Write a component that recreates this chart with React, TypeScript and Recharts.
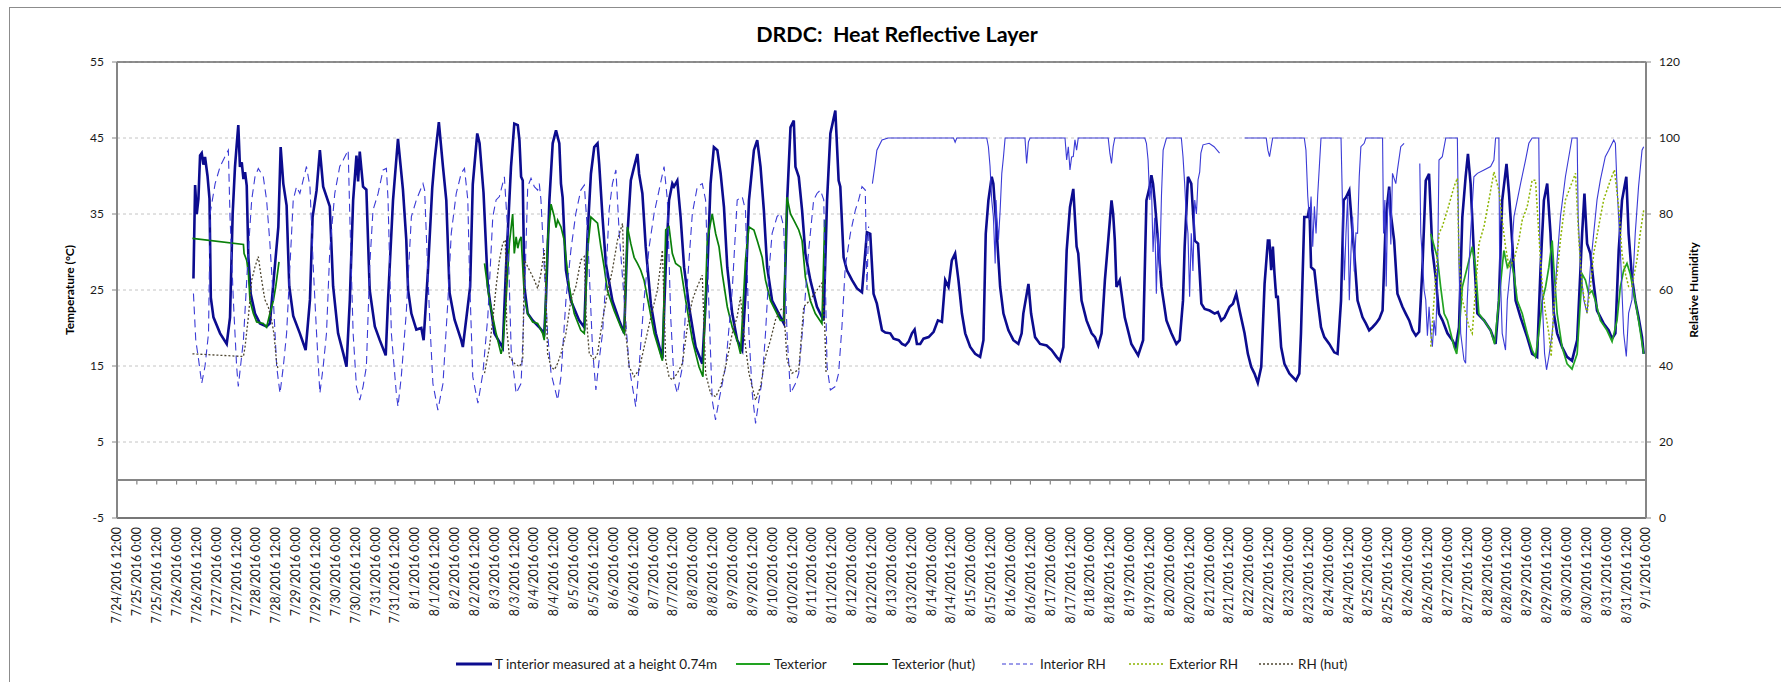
import React from "react";
import { LineChart, Line, XAxis, YAxis, CartesianGrid, ReferenceLine } from "recharts";

// x values are hours after 7/24/2016 12:00
const T0 = Date.UTC(2016, 6, 24, 12);
const xTicks = Array.from({ length: 78 }, (_, i) => i * 12);
const tempTicks = [-5, 5, 15, 25, 35, 45, 55];
const rhTicks = [0, 20, 40, 60, 80, 100, 120];

type Pt = [number, number | null];

const tInterior: Pt[] = [
  [46.2, 26.5], [47.2, 38.8], [48.2, 35], [49.2, 37], [50.2, 42.7], [51.2, 43], [52.2, 41.5], [53.2, 42.5], [54.7, 40], [55.9, 37],
  [56.7, 24], [58.3, 21.4], [62.3, 19.3], [66.3, 17.9], [68.3, 21.4], [69.9, 35], [71.3, 41.2], [72.3, 44], [73.3, 46.7], [74.3, 41.2],
  [75.4, 41.8], [76.4, 39.6], [77.4, 40.5], [78.4, 38.7], [79.4, 29.3], [80.8, 24.5], [83.4, 21.9], [86.4, 20.6], [90.4, 20.2], [92.4, 20.6],
  [94.5, 25.9], [97.5, 33.3], [98.9, 43.8], [100.5, 39], [102.5, 36.1], [104.1, 25.5], [106.5, 21.6], [110.5, 19.3], [114, 17.1], [116.6, 23.7],
  [118.2, 34.6], [120.6, 38.1], [122.6, 43.4], [124.6, 38.6], [128.6, 36], [130.6, 25.5], [133.6, 19.3], [136.7, 16.7], [138.7, 14.9], [140.7, 23.7],
  [142.7, 36.8], [144.7, 42.7], [145.7, 39.3], [146.7, 43.2], [148.7, 38.6], [150.7, 38.2], [152.7, 25], [155.8, 20.2], [158.8, 18.4], [162.4, 16.4],
  [163.8, 23.7], [166.8, 36.8], [169.8, 44.9], [172.8, 38.2], [174.8, 31.7], [175.9, 25], [177.9, 21.9], [180.9, 19.8], [183.9, 20], [185.3, 18.4],
  [187.9, 27.5], [190.5, 38.4], [191.9, 42], [194.5, 47.1], [197, 41.2], [199, 36.8], [201, 24.6], [204, 21.1], [208, 18.4], [209, 17.5],
  [213.4, 25.4], [215, 38.9], [217.7, 45.6], [219.1, 44.3], [221.5, 37.8], [224.1, 25.5], [228.1, 19.3], [233.1, 17.4], [235.1, 28], [238.1, 41.2],
  [240.1, 46.9], [242.2, 46.7], [243.2, 44.7], [244.2, 39.9], [245.2, 39.4], [246.2, 25.4], [248.2, 21.9], [251.2, 21], [255.2, 20.1], [258.2, 19.3],
  [259.2, 23.6], [261.3, 36.8], [263.3, 44.3], [265.3, 46], [267.3, 44.3], [268.3, 39], [269.3, 37.2], [271.3, 27.6], [274.3, 23.6], [279.3, 21],
  [282.4, 20.1], [284.4, 32.4], [286.4, 40.3], [288.4, 43.8], [290.4, 44.3], [291.4, 41.6], [293.4, 34.6], [295.4, 28.5], [299.4, 23.6], [303.5, 21],
  [306.5, 19.3], [308.5, 32.4], [310.5, 39.4], [312.5, 41.2], [314.5, 42.9], [315.5, 40.3], [317.5, 37.7], [319.5, 30.7], [322.6, 23.2], [325.6, 19.3],
  [329.6, 16], [331.6, 28], [333.6, 36.8], [335.6, 39], [336.6, 38.6], [338.6, 39.4], [340.6, 34.6], [342.7, 28], [345.7, 22.8], [349.7, 17.5],
  [353.7, 15.3], [356.7, 27.1], [358.7, 39], [360.7, 43.8], [362.8, 43.4], [364.8, 40.3], [366.8, 35.9], [368.8, 28], [371.8, 21.9], [374.8, 18.4],
  [377.8, 17.1], [379.8, 24.5], [381.9, 36.8], [384.9, 43.4], [386.9, 44.7], [388.9, 41.2], [390.9, 35.5], [392.9, 28], [395.9, 23.6], [399.9, 21.9],
  [403, 20.6], [405, 36.8], [407, 46.4], [409, 47.3], [410, 41.2], [412, 39.9], [414, 35.5], [416, 29.8], [419, 26.3], [423, 22.8],
  [427, 21], [429.1, 36.8], [431.1, 45.6], [434.1, 48.6], [436.1, 39.4], [437.1, 38.6], [439.1, 29.3], [441.1, 27.6], [444.2, 26.3], [447.2, 25.2],
  [450.2, 24.7], [453.2, 32.6], [455.2, 32.4], [457.2, 24.5], [459.2, 23.2], [462.3, 19.7], [464.3, 19.4], [467.3, 19.3], [469.3, 18.6], [472.4, 18.4],
  [474.4, 17.9], [476.4, 17.7], [478.4, 18.2], [480.4, 19.3], [482, 19.8], [483.4, 17.9], [485.4, 17.9], [487.4, 18.6], [490.5, 18.8], [493.5, 19.5],
  [496.1, 21], [498.5, 20.8], [500.5, 26.3], [502.5, 25.4], [504.5, 28.9], [506.5, 29.8], [508.5, 26.3], [510.6, 21.9], [512.6, 19.3], [515.6, 17.5],
  [518.6, 16.6], [521.6, 16.2], [523.6, 18.4], [525, 32.4], [526.6, 36.8], [528.6, 39.9], [529.6, 39], [531.7, 32.4], [533.7, 25.4], [535.7, 21.9],
  [538.7, 19.7], [541.7, 18.4], [544.7, 17.9], [546.7, 19.3], [547.7, 21.9], [550.8, 25.8], [552.4, 21.9], [554.8, 18.8], [557.8, 17.9], [561.8, 17.7],
  [564.8, 17.1], [567.8, 16.2], [569.8, 15.7], [571.9, 17.5], [573.9, 30.2], [575.9, 35.9], [577.9, 38.3], [579.9, 30.7], [580.9, 29.8], [582.9, 23.6],
  [585.9, 21], [589, 19.3], [591, 18.8], [593, 17.7], [595, 19.3], [597, 26.3], [599, 31.5], [601, 36.8], [602, 35], [603, 31.5],
  [604, 25.4], [606, 26.3], [609, 21.4], [613, 17.9], [617.1, 16.4], [620.1, 18.4], [622.1, 36.8], [624.1, 38.6], [625.1, 40.1], [626.1, 39],
  [627.1, 36.8], [629.1, 31.5], [631.2, 25.4], [634.2, 21], [637.2, 19.3], [640.2, 17.9], [642.2, 18.4], [644.2, 23.6], [645.2, 30.7], [647.2, 39.9],
  [649.2, 39], [651.3, 31.5], [653.3, 31.1], [655.3, 23.2], [657.3, 22.5], [660.3, 22.3], [663.3, 21.9], [665.3, 22.1], [667.3, 21], [669.3, 21.4],
  [672.4, 22.8], [674.4, 23.2], [676.4, 24.5], [678.4, 22.3], [681.4, 19.3], [683.4, 16.6], [685.4, 14.9], [687.4, 14], [689.4, 12.8], [691.5, 14.9],
  [693.5, 25.8], [695.5, 31.5], [696.4, 31.5], [697.5, 27.6], [698.5, 30.7], [699.5, 27.1], [700.5, 24.1], [701.5, 24.1], [703.5, 17.5], [705.5, 15.3],
  [708.5, 14], [712.5, 13.1], [714.5, 14], [715.5, 19.3], [717.5, 34.6], [719.6, 34.6], [720.6, 35.9], [721.6, 28], [723.6, 27.6], [725.6, 23.6],
  [727.6, 20.1], [729.6, 18.8], [732.6, 17.9], [735.6, 16.8], [737.6, 16.6], [739.7, 23.6], [741.3, 36.8], [742.7, 37.2], [744.7, 38.1], [746.7, 32.4],
  [747.7, 29.8], [749.7, 23.6], [752.7, 21.4], [754.7, 20.6], [756.7, 19.7], [758.7, 20.1], [760.8, 20.6], [762.8, 21.2], [764.8, 22.3], [766.8, 34.6],
  [768.8, 38.6], [769.8, 35], [771.8, 31.5], [773.8, 24.5], [776.8, 22.8], [778.8, 21.9], [780.9, 21], [782.9, 19.7], [784.9, 19], [786.9, 19.5],
  [788.9, 28], [790.9, 39.4], [792.9, 40.3], [794.9, 30.2], [796.9, 26.7], [798.9, 21.9], [801, 21], [804, 19.3], [807, 18.4], [809, 17.5],
  [811, 20.1], [813, 34.6], [815, 39.9], [816.4, 42.9], [818, 39], [820, 29.8], [822.1, 21.9], [826.1, 21], [830.1, 19.7], [833.1, 17.9],
  [835.1, 23.6], [837.1, 36.8], [839.7, 41.6], [841.2, 37.7], [843.2, 31.1], [845.2, 23.6], [848.2, 21.4], [852.2, 18.8], [855.2, 16.6], [858.2, 16.2],
  [860.3, 28], [862.3, 36.8], [864.3, 39], [866.3, 32.4], [868.3, 21.9], [870.3, 19.3], [873.3, 17.5], [876.3, 16.2], [879.3, 15.7], [882.4, 18.4],
  [885.4, 32.4], [886.8, 37.7], [888.4, 31.1], [890.4, 29.8], [892.4, 25.8], [894.4, 22.3], [898.4, 20.6], [901.5, 19.7], [903.5, 18.6], [905.5, 19.3],
  [907.5, 30.2], [909.5, 36.8], [912.1, 39.9], [913.5, 32.4], [915.5, 26.7], [917.5, 23.6], [919.5, 21.4], [921.6, 18.8], [922.6, 16.6],
];

const tExterior: Pt[] = [
  [793.9, 32.4], [797.9, 29.3], [799.9, 25.4], [802, 21.9], [804, 21], [806, 19.3], [808, 17.5], [809.6, 16.6], [811, 19.3], [813, 25.4],
  [816, 28], [819, 30.7], [821, 28], [823, 21.9], [826.1, 21], [830.1, 19.7], [832.5, 17.9], [835.1, 23.6], [838.1, 30.2], [840.2, 28],
  [842.2, 28.9], [844.2, 27.1], [846.2, 23.6], [849.2, 21.9], [852.2, 19.3], [855.2, 17.1], [857.2, 16.2], [859.2, 19.3], [861.3, 23.6], [863.3, 25.4],
  [865.3, 28], [867.3, 31.5], [868.3, 28], [870.3, 21.9], [873.3, 17.5], [876.3, 15.3], [879.3, 14.6], [882.4, 16.6], [885.4, 27.1], [887.4, 26.3],
  [889.4, 24.5], [891.4, 24.9], [893.4, 23.6], [896.4, 21], [900.4, 19.7], [903.5, 18.2], [906.5, 21], [908.5, 25.4], [910.5, 27.6], [912.5, 28.5],
  [914.5, 27.1], [917.5, 23.6], [919.5, 21], [922.6, 16.6],
];

const tExteriorHut: Pt[] = [
  [45.6, 31.8], [76.4, 31], [76.8, 29.8], [78.4, 28.9], [79.4, 27.2], [80.4, 23.6], [82.4, 21.9], [84.4, 20.8], [88.4, 20.6], [90.4, 20.1],
  [92.4, 21.9], [94.5, 23.6], [95.9, 25.4], [97.9, 28.7], [160, null],
  [222.1, 28.5], [225.1, 23.6], [229.1, 19.3], [232.1, 16.6], [233.1, 17.5], [235.1, 23.6], [237.1, 31.1], [239.1, 35], [240.1, 29.8], [241.2, 32],
  [242.2, 30.5], [243.2, 31.5], [244.2, 32], [246.2, 24.1], [248.2, 21.9], [251.2, 20.8], [254.2, 20.6], [257.2, 19.3], [258.2, 18.4], [260.2, 31.5],
  [262.3, 36.3], [264.3, 34.6], [265.3, 33.2], [266.3, 34.2], [268.3, 33.3], [270.3, 31.5], [271.3, 29.3], [273.3, 25.4], [276.3, 21.9], [280.3, 19.7],
  [282.4, 19.3], [284.4, 30.2], [286.4, 34.6], [288.4, 34.2], [290.4, 33.8], [292.4, 30.7], [294.4, 28], [296.4, 24.9], [300.4, 22.3], [304.5, 20.1],
  [306.5, 19.3], [308.5, 33.3], [310.5, 31.1], [312.5, 29.3], [314.5, 28.5], [316.5, 27.6], [318.5, 26.3], [321.6, 22.8], [324.6, 19.3], [329.6, 15.7],
  [331.6, 32.9], [333.6, 33.3], [335.6, 29.8], [337.6, 28.5], [340.6, 28], [343.7, 23.6], [347.7, 18.4], [351.7, 14.9], [354.1, 13.6], [356.7, 31.5],
  [359.7, 35], [361.8, 32.4], [363.8, 30.7], [365.8, 27.1], [368.8, 22.8], [371.8, 20.1], [374.8, 18.4], [376.8, 16.6], [379.8, 28.9], [381.9, 33.3],
  [384.9, 32.9], [386.9, 31.5], [389.9, 29.3], [391.9, 26.3], [394.9, 23.6], [397.9, 22.3], [400.9, 21], [402.9, 21], [404.9, 37.2], [407, 35],
  [409, 34.2], [412, 32.9], [414, 31.5], [416, 26.7], [419, 23.6], [422, 21.9], [426, 20.6], [427.7, 34.2],
];

const rhInteriorEarly: Pt[] = [
  [46.2, 59.1], [47.6, 46.8], [49.2, 42], [51.2, 35.4], [53.2, 40], [55.3, 48.6], [56.3, 80.2], [59.3, 88], [62.3, 92.5], [66.3, 96],
  [67.3, 96.8], [68.3, 79.3], [70.3, 57.4], [72.3, 39.8], [73.3, 34.6], [76.4, 46.8], [79.4, 70.5], [81.4, 83.7], [83.4, 89.8], [85.4, 92],
  [88.4, 89.8], [90.4, 83.7], [92.4, 72.3], [94.5, 57.4], [96.5, 39.8], [98.5, 32.8], [100.5, 39.8], [102.5, 48.6], [104.5, 66.1], [106.5, 83.7],
  [108.5, 87.2], [110.5, 85.4], [112.5, 88.9], [114.5, 92.5], [116.6, 87.2], [118.6, 66.1], [120.6, 48.6], [122.6, 32.8], [124.6, 39.8], [126.6, 48.6],
  [128.6, 70.5], [131.6, 85.4], [134.6, 92.5], [136.7, 94.2], [139.7, 96.8], [140.7, 79.3], [142.7, 48.6], [144.7, 34.6], [146.7, 31], [148.7, 34.6],
  [150.7, 39.8], [152.7, 66.1], [154.7, 81], [157.8, 85.4], [160.8, 91.6], [162.8, 92], [163.8, 83.7], [165.8, 48.6], [168.8, 32.8], [169.8, 29.3],
  [171.8, 37.2], [174.8, 53.9], [177.9, 79.3], [180.9, 83.7], [184.9, 88], [185.9, 86.3], [186.9, 74.9], [188.9, 53], [190.9, 35.4], [193.9, 28.4],
  [197, 35.4], [200, 57.4], [202, 74.9], [205, 85.4], [208, 90.7], [210, 92], [212, 83.7], [213, 64.4], [215, 37.2], [218.1, 30.2],
  [221.1, 38.1], [224.1, 53], [227.1, 79.3], [229.1, 83.7], [231.1, 84.6], [234.1, 89.8], [236.2, 74.9], [238.2, 44.2], [241.2, 32.8], [244.2, 35.4],
  [246.2, 57.4], [248.2, 87.2], [250.2, 89.4], [252.2, 87.2], [254.2, 86.3], [255.2, 88], [256.2, 83.7], [258.2, 66.1], [260.2, 48.6], [262.3, 38.1],
  [266.3, 31], [268.3, 37.2], [271.3, 57.4], [274.3, 70.5], [277.3, 80.2], [280.3, 86.3], [282.4, 87.6], [284.4, 74.9], [287.4, 44.2], [289.4, 33.7],
  [291.4, 41.6], [293.4, 48.6], [295.4, 62.6], [297.4, 81], [299.4, 88], [301.5, 91.6], [303.5, 74.9], [306.5, 57.4], [309.5, 39.8], [313.5, 29.3],
  [315.5, 39.8], [318.5, 57.4], [321.6, 71.4], [324.6, 80.2], [327.6, 86.3], [330.6, 92.5], [332.6, 83.7], [334.6, 53], [336.6, 36.3], [338.6, 32.8],
  [341.7, 39.8], [343.7, 55.6], [345.7, 67.9], [347.7, 80.2], [350.7, 87.2], [353.7, 88], [355.7, 83.7], [357.7, 55.6], [359.7, 31], [361.7, 25.8],
  [363.8, 31], [367.8, 39.8], [371.8, 60], [374.8, 83.7], [377.8, 84.6], [379.8, 81], [381.9, 48.6], [383.9, 32.8], [385.9, 24.9], [387.9, 31],
  [389.9, 36.3], [391.9, 48.6], [393.9, 64.4], [395.9, 74.9], [398.9, 79.3], [400.9, 80.2], [402.9, 76.7], [404.9, 48.6], [407, 32.8], [410, 35.4],
  [412, 38.1], [415, 53], [418, 70.5], [421, 83.7], [423, 85.4], [425.1, 86.3], [427.1, 83.7], [429.1, 39.8], [431.1, 33.7], [434.1, 34.6],
  [436.1, 38.1], [438.1, 50.4], [440.1, 66.1], [443.2, 74.9], [446.2, 81], [448.2, 83.7], [450.2, 87.2], [452.2, 86.3], [453.2, 60], [454.2, 76.7],
];

const rhInteriorLate: Pt[] = [
  [456.5, 88], [458.2, 93.3], [459.2, 96.8], [462.3, 99.5], [466, 100], [505.5, 100], [506.5, 98.9], [507.5, 100], [525.6, 100], [526.6, 97.7],
  [527.6, 92.5], [528.6, 83.7], [529.6, 79.3], [530.7, 67], [531.2, 83.7], [531.7, 79.3], [532.7, 73.2], [533.7, 81], [534.7, 90.7], [535.7, 95],
  [536.7, 100], [548.7, 100], [549.7, 93.3], [550.8, 99], [551.8, 100], [572.9, 100], [573.9, 94.2], [574.9, 97.7], [575.9, 91.6], [576.9, 95],
  [577.9, 95.1], [578.9, 99.5], [579.9, 96.8], [580.9, 100], [599, 100], [600, 96], [601, 93.3], [602, 97.7], [603, 100], [621.1, 100],
  [622.1, 98.6], [623.1, 94.2], [624.1, 83.7], [625.1, 88], [626.1, 70], [627.1, 79], [628.1, 59], [629.1, 75], [630.1, 65], [631.2, 85],
  [632.2, 96.8], [634.2, 100], [643.2, 100], [644.2, 95.1], [645.2, 88], [646.2, 79.3], [647.2, 74.9], [648.2, 58.2], [649.2, 74.9], [650.2, 65],
  [651.3, 83.7], [652.3, 80], [653.3, 89], [654.3, 91.1], [655, 96], [656.3, 98.2], [660, 98.6], [663, 97.7], [666.3, 96], [670, null],
  [681.4, 100], [694.5, 100], [695.5, 96.8], [696.5, 95.1], [697.5, 97.7], [698.4, 100], [717.5, 100], [718.5, 96.8], [719.6, 84.6], [720.6, 78.4],
  [721.6, 84.6], [722.6, 71.4], [723.6, 82], [724.6, 74.9], [725.6, 85], [726.6, 92.5], [727.6, 100], [739.7, 100], [740.7, 80], [741.7, 62.6],
  [742.7, 75], [743.7, 84.6], [744.7, 57.3], [745.7, 70], [746.7, 79.3], [747.7, 64.9], [748.7, 75], [749.7, 74.9], [750.7, 89.8], [751.7, 97.7],
  [753.7, 98.6], [754.7, 100], [764.8, 100], [765.4, 74.9], [766.2, 83.7], [767, 60.9], [767.8, 80], [768.8, 86.3], [769.8, 72], [770.8, 90.7],
  [772.8, 88], [773.8, 91.6], [775.8, 97.7], [777.8, 98.6], [782, null], [787.3, 93.3], [787.9, 75], [788.9, 67.9], [789.9, 60], [790.9, 57.4],
  [791.9, 48], [792.9, 55.6], [793.9, 48.6], [794.9, 45.1], [795.9, 52], [796.9, 48], [797.9, 60.9], [798.9, 94.2], [800.9, 95.1], [803, 100],
  [810, 100], [811, 66.1], [812, 48.6], [814, 41.6], [815, 40.7], [816, 57.4], [818, 74.9], [820, 89.8], [822.1, 90.7], [826.1, 91.6],
  [830.1, 92.5], [832.1, 94.2], [833.1, 100], [835.1, 100], [835.5, 70.5], [837.1, 48.6], [839.1, 44.2], [840.2, 57.4], [842.2, 66.1], [844.2, 79.3],
  [848.2, 88], [851.2, 94.2], [853.2, 98.6], [855.2, 100], [859.2, 100], [859.8, 74.9], [861.3, 57.4], [862.7, 43.3], [863.9, 39], [865.3, 42.5],
  [867.3, 48.6], [868.3, 53.9], [870.3, 67.9], [872.3, 79.3], [875.3, 89.8], [879.3, 100], [882.4, 100], [883, 79.3], [884.4, 66.1], [886.4, 57.4],
  [888.4, 53.9], [890.4, 66.1], [892.4, 74.9], [894.4, 83.7], [896.4, 88.9], [899.4, 95.1], [901.5, 96.8], [904.5, 99.5], [905.5, 98.6], [906.5, 87.2],
  [908.5, 70.5], [910.5, 48.6], [912.1, 42.5], [913.5, 53.9], [915.5, 57.4], [917.5, 74.9], [919.5, 87.2], [921.6, 96.8], [922.6, 97.7],
];

const rhExterior: Pt[] = [
  [793.9, 45.1], [795.9, 57.4], [798.9, 74.9], [800.9, 76.7], [804, 81], [808, 87.2], [810, 89.4], [811, 67.9], [813, 57.4], [815, 53.9],
  [817, 50.4], [819, 48.6], [821.1, 60.9], [823.1, 72.3], [826.1, 76.7], [829.1, 83.7], [832.1, 91.1], [835.1, 86.3], [837.1, 78.4], [839.1, 71.4],
  [841.2, 66.1], [844.2, 67.9], [847.2, 73.2], [849.2, 78.4], [852.2, 81.9], [855.2, 88.9], [857.2, 88.9], [859.2, 74.9], [861.3, 60.9], [863.3, 53.9],
  [865.3, 48.6], [866.7, 42.5], [868.3, 55.6], [870.3, 64.4], [872.3, 73.2], [875.3, 83.7], [878.3, 87.2], [881.4, 90.7], [883.4, 73.2], [885.4, 60.9],
  [888.4, 53.9], [890.4, 60.9], [892.4, 69.6], [895.4, 76.7], [898.4, 83.7], [902.5, 88.9], [904.9, 91.6], [907.5, 81.9], [909.5, 69.6], [911.5, 64.4],
  [913.5, 60.9], [915.5, 60.9], [918.5, 67.9], [920.5, 74.9], [922.6, 81],
];

const rhHut: Pt[] = [
  [45.6, 43.2], [76.4, 42.5], [77.4, 45.1], [79.4, 53], [81.4, 62.6], [83.4, 66.1], [85.4, 68.8], [86.8, 64.4], [88.4, 60], [89.4, 57.4],
  [91.4, 55.6], [93.4, 52.1], [94.8, 48.6], [96.5, 40.7], [97.5, 39], [160, null],
  [222.1, 38.1], [225.1, 45.1], [227.1, 52.1], [229.1, 60.9], [231.1, 67.9], [233.1, 72.3], [234.7, 73.2], [235.5, 50], [237.1, 42.5], [240.1, 40.7],
  [243.2, 39.8], [245.2, 41.6], [246.2, 67.9], [248.2, 66.1], [250.2, 64.4], [252.2, 62.6], [254.2, 60.4], [256.2, 64.4], [258.2, 70.5], [259.2, 59.1],
  [260.2, 43.3], [262.3, 39.8], [264.3, 39], [266.3, 40.7], [268.3, 43.3], [271.3, 48.6], [274.3, 57.4], [277.3, 60.9], [280.3, 67.9], [282.4, 68.8],
  [283.4, 53.9], [285.4, 43.3], [288.4, 41.6], [290.4, 43.3], [293.4, 52.1], [296.4, 59.1], [299.4, 65.3], [302.5, 73.2], [305.5, 77.5], [307.5, 48.6],
  [309.5, 39.8], [312.5, 37.2], [315.5, 39], [319.5, 46.8], [323.6, 54.7], [326.6, 60], [329.6, 70.5], [331.6, 41.6], [333.6, 37.2], [335.6, 36.3],
  [338.6, 38.1], [341.7, 40.7], [344.7, 50.4], [347.7, 57.4], [350.7, 60.9], [353.7, 63.9], [355.7, 38.1], [358.7, 32.8], [361.8, 31.9], [364.8, 34.6],
  [367.8, 39.8], [371.8, 48.6], [374.8, 53], [376.8, 58.2], [378.8, 48.6], [381.9, 38.1], [385.9, 31], [388.9, 34.6], [391.9, 42.5], [394.9, 46.8],
  [397.9, 52.1], [400.9, 54.7], [402.9, 55.6], [404.9, 41.6], [407.9, 38.1], [412, 39], [415, 55.6], [419, 57.4], [423, 60], [426, 61.8],
  [427.7, 50.4], [428.5, 38.1],
];

const FONT = "Lato, 'Liberation Sans', sans-serif";
const AXIS_GRAY = "#868686";

const toPts = (a: Pt[]) => a.map(([t, v]) => ({ t, v }));

function dateLabel(h: number) {
  const d = new Date(T0 + h * 3600000);
  return `${d.getUTCMonth() + 1}/${d.getUTCDate()}/2016 ${d.getUTCHours()}:00`;
}

const DateTick = (props: any) => {
  const { x, payload } = props;
  const y = 527;
  return (
    <text x={x} y={y} transform={`rotate(-90, ${x}, ${y})`} textAnchor="end" dy="0.36em"
      fontSize={12.4} fontFamily={FONT} fill="#1a1a1a">
      {dateLabel(payload.value)}
    </text>
  );
};

const legendItems = [
  { label: "T interior measured at a height 0.74m", color: "#0c0c8f", width: 3, dash: undefined, x1: 456, x2: 492, tx: 495 },
  { label: "Texterior", color: "#22a322", width: 1.8, dash: undefined, x1: 736, x2: 770, tx: 774 },
  { label: "Texterior (hut)", color: "#0a800a", width: 1.8, dash: undefined, x1: 853, x2: 888, tx: 892 },
  { label: "Interior RH", color: "#3b3bd6", width: 1.2, dash: "4 3", x1: 1002, x2: 1033, tx: 1040 },
  { label: "Exterior RH", color: "#8cb400", width: 1.4, dash: "2 2", x1: 1129, x2: 1164, tx: 1169 },
  { label: "RH (hut)", color: "#4d4530", width: 1.3, dash: "2 2", x1: 1259, x2: 1294, tx: 1298 },
];

export default function App() {
  return (
    <div style={{ position: "absolute", left: 0, top: 0, width: 1781, height: 682, background: "#fff", overflow: "hidden" }}>
      <LineChart width={1781} height={682} margin={{ top: 62, right: 75, bottom: 54, left: 57 }}>
        <CartesianGrid yAxisId="temp" vertical={false} stroke="#c4c4c4" strokeDasharray="3 3" />
        <XAxis dataKey="t" type="number" domain={[0, 924]} ticks={xTicks} interval={0} allowDataOverflow
          height={110} tickLine={false} axisLine={{ stroke: "#777", strokeWidth: 2 }}
          tick={(p: any) => <DateTick {...p} />} />
        <YAxis yAxisId="temp" domain={[-5, 55]} ticks={tempTicks} width={60} allowDataOverflow
          axisLine={{ stroke: AXIS_GRAY, strokeWidth: 2 }} tickLine={{ stroke: AXIS_GRAY }} tickSize={5} tickMargin={8}
          tick={{ fontSize: 12, fontFamily: FONT, fill: "#1a1a1a" }} />
        <YAxis yAxisId="rh" orientation="right" domain={[0, 120]} ticks={rhTicks} width={60} allowDataOverflow
          axisLine={{ stroke: AXIS_GRAY, strokeWidth: 2 }} tickLine={{ stroke: AXIS_GRAY }} tickSize={5} tickMargin={8}
          tick={{ fontSize: 12, fontFamily: FONT, fill: "#1a1a1a" }} />
        <ReferenceLine yAxisId="temp" y={55} stroke="#6a6a6a" strokeWidth={1.5} />
        <ReferenceLine yAxisId="temp" y={0} stroke={AXIS_GRAY} strokeWidth={2} />
        {xTicks.map((t) => (
          <ReferenceLine key={t} yAxisId="temp" segment={[{ x: t, y: 0 }, { x: t, y: -0.6 }]} stroke={AXIS_GRAY} strokeWidth={1.2} />
        ))}

        <Line yAxisId="temp" data={toPts(tInterior)} dataKey="v" stroke="#0c0c8f" strokeWidth={2.6}
          dot={false} activeDot={false} isAnimationActive={false} />
        <Line yAxisId="temp" data={toPts(tExterior)} dataKey="v" stroke="#22a322" strokeWidth={1.7}
          dot={false} activeDot={false} isAnimationActive={false} />
        <Line yAxisId="temp" data={toPts(tExteriorHut)} dataKey="v" stroke="#0a800a" strokeWidth={1.7}
          dot={false} activeDot={false} isAnimationActive={false} />
        <Line yAxisId="rh" data={toPts(rhInteriorEarly)} dataKey="v" stroke="#3b3bd6" strokeWidth={1.1} strokeDasharray="8 5"
          dot={false} activeDot={false} isAnimationActive={false} />
        <Line yAxisId="rh" data={toPts(rhInteriorLate)} dataKey="v" stroke="#3b3bd6" strokeWidth={1.1}
          dot={false} activeDot={false} isAnimationActive={false} />
        <Line yAxisId="rh" data={toPts(rhExterior)} dataKey="v" stroke="#8cb400" strokeWidth={1.5} strokeDasharray="2 2"
          dot={false} activeDot={false} isAnimationActive={false} />
        <Line yAxisId="rh" data={toPts(rhHut)} dataKey="v" stroke="#4d4530" strokeWidth={1.3} strokeDasharray="2 2"
          dot={false} activeDot={false} isAnimationActive={false} />
      </LineChart>

      <svg width={1781} height={682} style={{ position: "absolute", left: 0, top: 0, pointerEvents: "none" }}>
        <rect x={9.5} y={7.5} width={1800} height={700} fill="none" stroke="#8c8c8c" strokeWidth={1} />
        <text x={897} y={42} textAnchor="middle" fontFamily={FONT} fontWeight="bold" fontSize={21.5} fill="#000"
          style={{ whiteSpace: "pre" }}>
          {"DRDC:  Heat Reflective Layer"}
        </text>
        <text x={70} y={290} transform="rotate(-90, 70, 290)" textAnchor="middle" dy="0.35em"
          fontFamily={FONT} fontWeight="bold" fontSize={12} fill="#000">Temperature (°C)</text>
        <text x={1694} y={290} transform="rotate(-90, 1694, 290)" textAnchor="middle" dy="0.35em"
          fontFamily={FONT} fontWeight="bold" fontSize={12} fill="#000">Relative Humidity</text>
        {legendItems.map((it) => (
          <g key={it.label}>
            <line x1={it.x1} x2={it.x2} y1={664} y2={664} stroke={it.color} strokeWidth={it.width} strokeDasharray={it.dash} />
            <text x={it.tx} y={664} dy="0.35em" fontFamily={FONT} fontSize={13.5} fill="#1a1a1a">{it.label}</text>
          </g>
        ))}
      </svg>
    </div>
  );
}
